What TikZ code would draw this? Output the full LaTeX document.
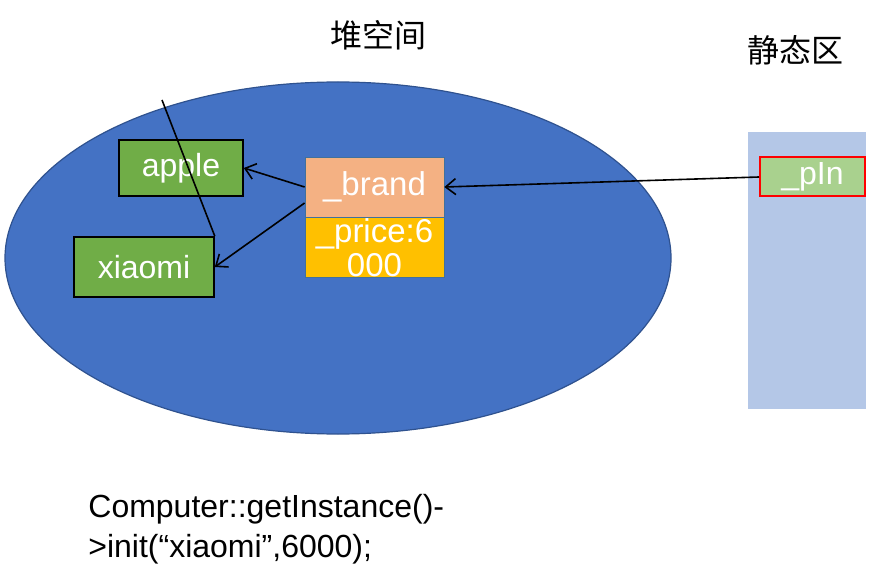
\documentclass[tikz,border=0pt]{standalone}
\usepackage{fontspec}
\setmainfont{Liberation Sans}
\newfontfamily\cjk{Noto Sans CJK SC}
\usetikzlibrary{shapes.geometric,arrows.meta}
\definecolor{heapblue}{HTML}{4472C4}
\definecolor{heapedge}{HTML}{2F528F}
\definecolor{objgreen}{HTML}{70AD47}
\definecolor{brandfill}{HTML}{F4B183}
\definecolor{pricefill}{HTML}{FFC000}
\definecolor{celledge}{HTML}{41719C}
\definecolor{staticfill}{HTML}{B4C7E7}
\definecolor{pinfill}{HTML}{A9D18E}
\tikzstyle{strbox} = [rectangle, draw=black, line width=0.8pt, fill=objgreen,
    text=white, font=\fontsize{16}{18}\selectfont, inner sep=0pt]
\tikzstyle{field} = [rectangle, draw=celledge, line width=0.4pt, text=white,
    font=\fontsize{16.5}{17}\selectfont, inner sep=0pt, minimum width=69.5pt, minimum height=30pt]
\tikzstyle{line} = [draw, line width=0.8pt, -{Straight Barb[length=5pt,width=8pt]}]

\begin{document}
\begin{tikzpicture}[x=0.5pt, y=-0.5pt]
  \useasboundingbox (0,0) rectangle (872,577);
   % heap and static area
    \node [ellipse, draw=heapedge, line width=0.6pt, fill=heapblue,
      minimum width=333pt, minimum height=176pt] (heap) at (338,258) {};
    \node [rectangle, fill=staticfill, minimum width=59pt, minimum height=138.5pt,
      inner sep=0pt] (static) at (807,270.5) {};
    \node [font=\cjk\fontsize{16}{18}\selectfont] (heaplbl) at (378,35) {堆空间};
    \node [font=\cjk\fontsize{16}{18}\selectfont] (staticlbl) at (795,50) {静态区};
   % objects
    \node [strbox, minimum width=62pt, minimum height=28pt] (apple) at (181,168) {apple};
    \node [strbox, minimum width=70pt, minimum height=30pt] (xiaomi) at (144,267) {xiaomi};
    \node [field, fill=brandfill] (brand) at (374.5,187) {\_brand};
    \node [field, fill=pricefill, align=center] (price) at (374.5,247.5) {\_price:6\\000};
    \node [rectangle, draw=red, line width=1pt, fill=pinfill, text=white,
      font=\fontsize{16}{18}\selectfont, minimum width=52.5pt, minimum height=19.5pt,
      inner sep=0pt] (pin) at (812.5,177) {\_pIn};
   % code line
    \node [anchor=north west, align=left, font=\fontsize{16}{20}\selectfont,
      inner sep=0pt] (code) at (88,494) {Computer::getInstance()-\\>init(“xiaomi”,6000);};
   % edges
    \coordinate (stroke) at (162,100);
    \draw [line width=0.8pt] (stroke) -- (xiaomi.north east);
    \path [line] (brand.west) -- (apple.east);
    \path [line] ([yshift=-8pt]brand.west) -- (xiaomi.east);
    \path [line] (pin.west) -- (brand.east);
  \end{tikzpicture}
\end{document}
